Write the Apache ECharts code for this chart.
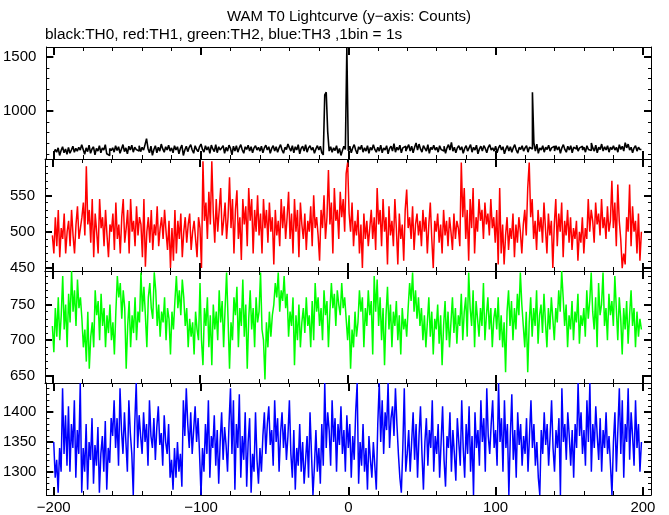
<!DOCTYPE html>
<html>
<head>
<meta charset="utf-8">
<script src="https://cdn.jsdelivr.net/npm/echarts@6/dist/echarts.min.js"></script>
<style>
html,body{margin:0;padding:0;background:#fff;}
#chart{width:669px;height:515px;}
</style>
</head>
<body>
<div id="chart"></div>
<script>
// ---- data (1 s bins starting at -200 s) ----
const BIN_START = -200;
const BIN_WIDTH = 1;
const titleText = 'WAM T0 Lightcurve (y\u2212axis: Counts)';
const subtitleText = 'black:TH0, red:TH1, green:TH2, blue:TH3 ,1bin = 1s';
const xTickLabels = [-200, -100, 0, 100, 200];

const th0 = [
605,645,620,660,590,635,670,615,650,600,665,610,640,675,620,655,630,665,640,690,
645,600,660,625,685,610,650,670,595,655,630,680,615,660,640,690,605,590,655,635,
660,620,680,635,670,610,650,690,625,660,605,675,640,685,620,665,645,630,680,625,
665,640,690,746,655,615,675,590,645,680,615,665,630,695,650,620,670,640,685,630,
660,615,680,640,670,605,655,685,590,640,675,625,665,690,640,610,680,645,625,670,
695,645,620,680,640,670,610,685,650,625,690,615,670,640,660,680,610,665,630,685,
655,595,675,630,680,620,660,690,640,610,670,645,685,630,670,615,660,680,640,665,
630,675,615,660,685,640,670,610,655,680,630,670,620,660,690,640,610,665,645,695,
660,630,680,615,670,640,690,605,655,675,630,690,620,660,680,640,665,610,650,680,
640,675,615,595,1150,1175,810,630,670,620,660,635,680,610,655,590,635,675,645,1585,
630,675,615,660,690,640,605,670,645,685,620,660,630,680,610,665,640,690,645,620,
665,630,685,615,660,640,680,605,655,675,630,700,620,665,640,685,615,660,675,630,
660,690,630,675,615,665,705,640,695,650,620,680,655,630,690,610,665,645,685,640,
665,620,680,645,630,675,610,660,690,640,710,630,665,615,660,680,640,670,610,655,
680,630,660,690,620,665,640,685,605,650,675,630,680,655,615,665,690,640,660,630,
675,615,660,685,640,670,605,650,680,630,670,620,660,690,640,610,665,645,680,630,
660,680,620,665,650,1174,705,630,695,610,660,640,680,620,665,645,685,630,660,675,
630,680,640,670,610,660,690,645,620,675,640,680,615,665,650,685,630,660,675,640,
665,620,680,645,635,705,660,630,685,615,665,645,695,630,670,640,680,620,665,645,
680,640,665,620,690,645,675,630,708,660,695,640,665,615,660,680,630,665,645,640
];

const th1 = [
495,470,520,480,530,465,505,490,525,470,500,515,480,530,495,470,510,535,490,505,
520,540,495,590,510,530,485,545,465,525,500,470,545,505,520,480,530,495,465,510,
500,525,475,540,490,510,470,520,545,485,505,530,470,545,500,515,480,535,495,520,
510,465,545,452,500,520,485,530,475,510,495,535,480,505,520,490,530,500,475,515,
450,505,460,530,470,515,490,525,465,500,520,485,510,525,475,500,515,490,465,520,
505,450,597,515,540,490,555,510,597,525,485,545,500,530,560,495,515,540,490,520,
575,505,545,470,530,557,490,520,461,545,510,535,480,560,515,545,470,530,500,550,
495,525,470,545,505,530,485,540,500,520,455,530,495,515,480,545,505,535,490,520,
555,490,525,470,545,500,530,465,540,510,490,525,475,515,500,535,480,550,505,520,
495,460,530,505,550,490,520,585,510,540,470,560,515,530,490,555,520,545,500,580,
595,525,500,540,480,515,495,530,470,510,450,525,490,515,480,505,530,490,520,475,
560,510,530,480,545,500,520,455,535,495,515,480,545,505,455,525,490,510,460,530,
558,505,520,490,535,475,510,525,495,515,480,530,500,520,470,510,540,490,450,515,
500,525,485,510,470,530,495,515,480,520,500,475,525,490,515,505,480,595,520,560,
490,530,460,545,505,560,470,520,500,545,515,530,490,540,510,525,495,545,505,520,
485,530,455,560,470,510,455,495,520,475,505,490,525,465,510,485,520,500,470,510,
530,495,560,595,520,545,490,515,475,530,500,520,485,540,505,470,525,495,515,450,
510,545,480,525,500,540,465,515,495,530,485,520,475,505,490,515,460,500,485,520,
470,505,490,545,500,530,515,485,540,510,525,495,545,505,520,490,535,500,515,570,
505,540,480,565,515,490,450,470,455,520,500,565,480,535,500,515,470,525,460,500
];

const th2 = [
720,683,745,705,760,700,735,790,715,750,690,765,725,797,740,770,720,785,745,760,
730,690,715,670,740,660,705,725,690,770,735,755,700,765,720,745,690,735,710,750,
700,725,680,740,790,760,780,730,770,745,660,720,755,690,735,710,760,700,740,725,
795,740,775,735,690,760,780,745,730,795,770,720,750,705,740,725,760,700,745,730,
680,740,715,755,790,745,770,735,785,760,720,745,690,730,705,725,680,740,715,700,
780,700,665,745,720,760,690,735,665,750,715,740,700,770,725,755,690,745,795,730,
660,725,700,760,735,775,690,745,720,785,705,750,660,730,770,715,745,690,760,725,
740,795,715,700,645,725,690,740,705,735,750,780,760,795,740,770,755,790,745,765,
705,740,720,760,665,735,700,750,690,725,745,710,760,720,735,690,755,700,780,740,
760,720,745,700,770,735,755,690,740,780,745,765,720,770,750,735,780,745,760,730,
700,735,660,715,690,740,705,725,770,740,760,690,745,720,770,735,755,680,790,740,
785,720,760,700,745,665,735,775,715,750,690,740,720,755,700,735,680,745,715,730,
705,745,780,755,795,740,770,730,760,720,745,700,735,690,725,760,705,740,680,730,
715,750,695,735,665,720,755,700,740,690,725,760,710,745,695,735,720,765,700,740,
760,705,795,745,720,770,690,755,730,705,745,720,780,700,735,760,715,745,690,730,
745,715,760,700,735,690,725,655,740,770,720,755,700,745,715,765,735,795,750,720,
690,740,655,725,760,705,745,720,770,695,735,750,710,765,725,690,745,715,760,730,
700,745,725,770,740,797,760,720,750,690,735,715,755,700,740,725,765,695,735,720,
745,705,770,730,755,795,740,715,760,690,780,735,750,795,720,745,700,765,735,755,
720,790,745,700,760,730,680,745,715,755,695,735,770,720,745,690,740,705,730,715
];

const th3 = [
1350,1290,1320,1265,1340,1300,1440,1330,1395,1310,1410,1300,1380,1340,1420,1290,1370,1330,1449,1265,
1340,1300,1380,1270,1350,1320,1390,1280,1345,1310,1375,1265,1330,1360,1300,1385,1270,1340,1315,1390,
1360,1420,1340,1390,1310,1440,1370,1330,1400,1350,1300,1420,1365,1330,1261,1380,1449,1340,1395,1360,
1330,1400,1350,1380,1310,1420,1360,1340,1390,1320,1375,1410,1345,1365,1310,1395,1350,1330,1380,1290,
1320,1270,1340,1290,1350,1300,1330,1275,1420,1360,1440,1380,1340,1400,1330,1370,1410,1350,1390,1330,
1261,1340,1300,1380,1330,1420,1290,1360,1340,1395,1310,1370,1280,1350,1400,1320,1375,1345,1300,1380,
1440,1330,1420,1270,1380,1340,1430,1290,1360,1320,1400,1275,1350,1390,1265,1330,1300,1400,1320,1280,
1340,1300,1360,1400,1330,1380,1410,1345,1370,1310,1420,1350,1390,1300,1365,1400,1340,1380,1320,1360,
1420,1330,1290,1370,1270,1340,1310,1380,1300,1350,1280,1320,1360,1290,1400,1330,1261,1310,1370,1300,
1340,1280,1380,1310,1449,1340,1400,1370,1310,1420,1350,1390,1300,1380,1345,1410,1330,1370,1300,1395,
1340,1380,1290,1360,1320,1400,1449,1280,1350,1310,1380,1300,1340,1270,1360,1320,1290,1350,1310,1270,
1380,1449,1350,1420,1330,1400,1370,1449,1340,1390,1410,1360,1440,1380,1330,1290,1265,1340,1440,1300,
1330,1370,1300,1350,1400,1320,1380,1290,1360,1410,1330,1270,1350,1390,1310,1370,1340,1420,1300,1360,
1330,1380,1290,1350,1410,1320,1275,1360,1340,1400,1300,1370,1330,1285,1390,1350,1310,1420,1340,1290,
1380,1330,1410,1300,1360,1261,1400,1340,1370,1310,1420,1350,1390,1300,1440,1360,1330,1380,1420,1340,
1370,1310,1449,1350,1390,1300,1420,1340,1380,1261,1360,1430,1320,1370,1290,1400,1345,1380,1310,1360,
1330,1390,1300,1360,1420,1340,1380,1310,1350,1290,1261,1370,1330,1400,1345,1380,1310,1360,1420,1340,
1300,1370,1340,1390,1261,1440,1350,1380,1320,1400,1360,1310,1370,1290,1380,1340,1449,1360,1400,1330,
1370,1310,1420,1350,1449,1300,1380,1340,1410,1360,1320,1390,1300,1370,1340,1400,1330,1360,1310,1261,
1350,1400,1300,1370,1440,1330,1420,1290,1380,1350,1440,1320,1400,1360,1310,1420,1340,1380,1300,1350
];

// y tick labels per panel
const yLabels0 = [1000, 1500];
const yLabels1 = [450, 500, 550];
const yLabels2 = [650, 700, 750];
const yLabels3 = [1300, 1350, 1400];

// ---- layout ----
const panels = [
  {data: th0, color: '#000000', width: 1.6, min: 557, max: 1593, labels: yLabels0, minorFrom: 600, minorTo: 1500, minorStep: 100},
  {data: th1, color: '#ff0000', width: 1.5, min: 446, max: 600, labels: yLabels1, minorFrom: 450, minorTo: 600, minorStep: 10},
  {data: th2, color: '#00ff00', width: 1.5, min: 640, max: 797, labels: yLabels2, minorFrom: 640, minorTo: 790, minorStep: 10},
  {data: th3, color: '#0000ff', width: 1.5, min: 1261, max: 1449, labels: yLabels3, minorFrom: 1270, minorTo: 1440, minorStep: 10}
];

const GRID_LEFT = 45, GRID_WIDTH = 606, GRID_TOP = 47, PANEL_H = 112;
const XMIN = -205, XMAX = 205.5;
const FONT = "'Liberation Sans', Arial, sans-serif";
const FS = 15;

function range(a, b, s) { const r = []; for (let v = a; v <= b + 1e-9; v += s) r.push(v); return r; }
const xMinor = range(-200, 200, 20);
const fmtX = v => String(v).replace('-', '\u2212');
const fmtY = v => String(v);

const grids = [], xAxes = [], yAxes = [], series = [];
panels.forEach((p, i) => {
  grids.push({left: GRID_LEFT, width: GRID_WIDTH, top: GRID_TOP + PANEL_H * i, height: PANEL_H});
  const lineStyle = {color: '#000', width: 1};
  ['bottom', 'top'].forEach(pos => {
    xAxes.push({
      type: 'value', gridIndex: i, position: pos, min: XMIN, max: XMAX,
      axisLine: {show: true, onZero: false, lineStyle: lineStyle},
      axisTick: {show: true, inside: true, length: 8, customValues: xTickLabels, lineStyle: {color: '#000', width: 2}},
      axisLabel: {show: pos === 'bottom' && i === 3, customValues: xTickLabels, formatter: fmtX,
        color: '#000', fontSize: FS, fontFamily: FONT, margin: 5},
      splitLine: {show: false}
    });
    xAxes.push({
      type: 'value', gridIndex: i, position: pos, min: XMIN, max: XMAX,
      axisLine: {show: false, onZero: false},
      axisTick: {show: true, inside: true, length: 4, customValues: xMinor, lineStyle: {color: '#000', width: 1}},
      axisLabel: {show: false}, splitLine: {show: false}
    });
  });
  const yMinor = range(p.minorFrom, p.minorTo, p.minorStep);
  ['left', 'right'].forEach(pos => {
    yAxes.push({
      type: 'value', gridIndex: i, position: pos, min: p.min, max: p.max,
      axisLine: {show: true, onZero: false, lineStyle: lineStyle},
      axisTick: {show: true, inside: true, length: 7, customValues: p.labels, lineStyle: {color: '#000', width: 2}},
      axisLabel: {show: pos === 'left', customValues: p.labels, formatter: fmtY, color: '#000', fontSize: FS, fontFamily: FONT, margin: 10},
      splitLine: {show: false}
    });
    yAxes.push({
      type: 'value', gridIndex: i, position: pos, min: p.min, max: p.max,
      axisLine: {show: false, onZero: false},
      axisTick: {show: true, inside: true, length: 3, customValues: yMinor, lineStyle: {color: '#000', width: 1}},
      axisLabel: {show: false}, splitLine: {show: false}
    });
  });
  series.push({
    type: 'line', step: 'end', xAxisIndex: i * 4, yAxisIndex: i * 4,
    data: p.data.map((v, k) => [BIN_START + k * BIN_WIDTH, v]),
    showSymbol: false, symbol: 'none', clip: true, silent: true,
    lineStyle: {color: p.color, width: p.width}, z: 1
  });
});

const chart = echarts.init(document.getElementById('chart'), null, {renderer: 'canvas'});
chart.setOption({
  animation: false,
  backgroundColor: '#ffffff',
  title: [
    {text: titleText, left: 349, top: 9, textAlign: 'center', padding: 0,
      textStyle: {fontSize: 15, fontWeight: 'normal', color: '#000', fontFamily: FONT}},
    {text: subtitleText, left: 45, top: 27, padding: 0,
      textStyle: {fontSize: 15.4, fontWeight: 'normal', color: '#000', fontFamily: FONT}}
  ],
  grid: grids, xAxis: xAxes, yAxis: yAxes, series: series
});
</script>
</body>
</html>
